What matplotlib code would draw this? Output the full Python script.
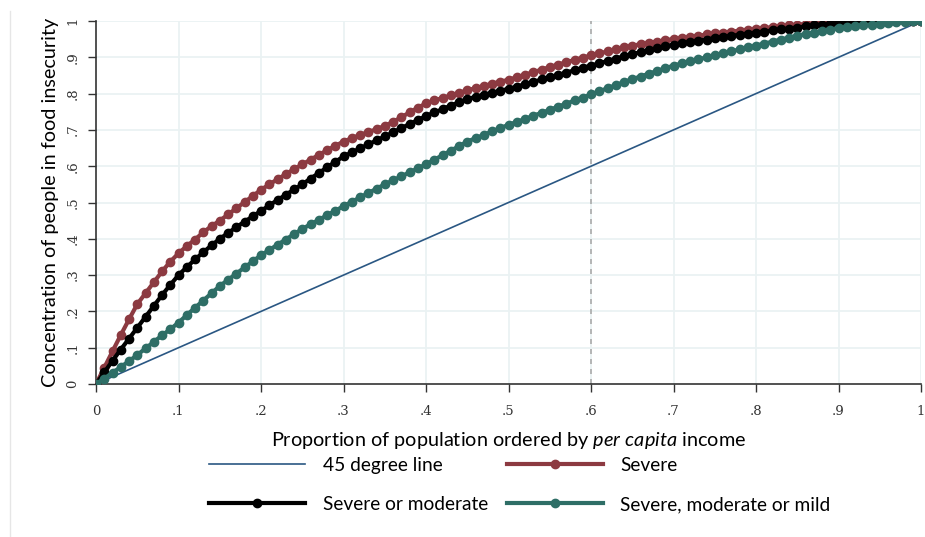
import numpy as np
import matplotlib
matplotlib.use("Agg")
import matplotlib.pyplot as plt
from matplotlib.lines import Line2D

plt.rcParams["font.family"] = ["Lato", "DejaVu Sans"]
plt.rcParams["mathtext.fontset"] = "custom"
plt.rcParams["mathtext.it"] = "Lato:italic"
plt.rcParams["mathtext.rm"] = "Lato"

# population share, ordered by per capita income (one point per percentile)
pop_share = [i / 100 for i in range(101)]

severe = [
    0, 0.045, 0.09, 0.135, 0.178, 0.22, 0.25, 0.28, 0.31, 0.337,
    0.36, 0.38, 0.398, 0.418, 0.435, 0.45, 0.467, 0.484, 0.501, 0.518,
    0.535, 0.55, 0.564, 0.578, 0.592, 0.605, 0.618, 0.631, 0.644, 0.656,
    0.668, 0.677, 0.686, 0.694, 0.702, 0.711, 0.722, 0.735, 0.748, 0.761,
    0.773, 0.781, 0.788, 0.795, 0.802, 0.809, 0.815, 0.821, 0.827, 0.833,
    0.838, 0.845, 0.852, 0.859, 0.866, 0.873, 0.88, 0.886, 0.893, 0.899,
    0.905, 0.911, 0.916, 0.922, 0.927, 0.932, 0.936, 0.94, 0.943, 0.947,
    0.95, 0.953, 0.956, 0.959, 0.963, 0.966, 0.968, 0.971, 0.973, 0.976,
    0.978, 0.981, 0.983, 0.986, 0.988, 0.99, 0.992, 0.993, 0.995, 0.996,
    0.997, 0.997, 0.998, 0.998, 0.999, 0.999, 0.999, 1, 1, 1, 1,
]

severe_moderate = [
    0, 0.032, 0.064, 0.095, 0.125, 0.155, 0.185, 0.215, 0.245, 0.273,
    0.30, 0.322, 0.343, 0.363, 0.382, 0.40, 0.416, 0.432, 0.447, 0.462,
    0.477, 0.492, 0.507, 0.521, 0.536, 0.55, 0.566, 0.581, 0.597, 0.612,
    0.627, 0.638, 0.649, 0.66, 0.671, 0.682, 0.693, 0.705, 0.716, 0.727,
    0.738, 0.748, 0.757, 0.767, 0.776, 0.785, 0.791, 0.797, 0.802, 0.808,
    0.813, 0.819, 0.826, 0.832, 0.839, 0.845, 0.851, 0.858, 0.864, 0.871,
    0.877, 0.883, 0.89, 0.896, 0.903, 0.909, 0.914, 0.92, 0.925, 0.93,
    0.935, 0.939, 0.942, 0.946, 0.949, 0.953, 0.956, 0.959, 0.962, 0.965,
    0.968, 0.971, 0.974, 0.977, 0.979, 0.982, 0.985, 0.988, 0.99, 0.993,
    0.995, 0.996, 0.996, 0.997, 0.997, 0.998, 0.998, 0.999, 0.999, 1, 1,
]

severe_moderate_mild = [
    0, 0.015, 0.031, 0.047, 0.063, 0.08, 0.098, 0.116, 0.134, 0.151,
    0.169, 0.19, 0.21, 0.23, 0.25, 0.27, 0.287, 0.304, 0.321, 0.338,
    0.355, 0.369, 0.384, 0.398, 0.413, 0.427, 0.44, 0.452, 0.465, 0.477,
    0.49, 0.502, 0.514, 0.526, 0.538, 0.55, 0.561, 0.572, 0.583, 0.594,
    0.605, 0.618, 0.63, 0.643, 0.655, 0.668, 0.677, 0.686, 0.696, 0.705,
    0.714, 0.722, 0.73, 0.739, 0.747, 0.755, 0.764, 0.772, 0.781, 0.789,
    0.798, 0.806, 0.815, 0.823, 0.832, 0.84, 0.847, 0.855, 0.862, 0.87,
    0.877, 0.883, 0.889, 0.894, 0.9, 0.906, 0.911, 0.916, 0.922, 0.927,
    0.932, 0.938, 0.943, 0.949, 0.954, 0.96, 0.964, 0.968, 0.972, 0.976,
    0.98, 0.983, 0.985, 0.988, 0.99, 0.993, 0.995, 0.996, 0.998, 0.999, 1,
]

ticks = [0, 0.1, 0.2, 0.3, 0.4, 0.5, 0.6, 0.7, 0.8, 0.9, 1]
tick_labels = ["0", ".1", ".2", ".3", ".4", ".5", ".6", ".7", ".8", ".9", "1"]
cutoff = 0.6

fig = plt.figure(figsize=(9.25, 5.37), dpi=100)
ax = fig.add_axes([0.1038, 0.2849, 0.8919, 0.6760])

# thin frame line at the very left of the image
fig.add_artist(Line2D([0.011, 0.011], [0.0, 0.98], transform=fig.transFigure,
                      color="#e6e6e6", lw=1))

for t in ticks[1:]:
    ax.axvline(t, color="#eaf2f3", lw=1.3, zorder=0)
    ax.axhline(t, color="#eaf2f3", lw=1.3, zorder=0)
ax.axvline(cutoff, color="#aaaaaa", lw=1.2, ls=(0, (3, 3)), zorder=1)

ax.plot(pop_share, pop_share, color="#2a5783", lw=1.2, label="45 degree line", zorder=2)
ax.plot(pop_share, severe, color="#8c3a41", lw=3, marker="o", ms=6,
        label="Severe", zorder=3)
ax.plot(pop_share, severe_moderate, color="black", lw=3, marker="o", ms=6,
        label="Severe or moderate", zorder=4)
ax.plot(pop_share, severe_moderate_mild, color="#2e6e66", lw=3, marker="o", ms=6,
        label="Severe, moderate or mild", zorder=5)

ax.set_xlim(0, 1)
ax.set_ylim(0, 1)
ax.set_xticks(ticks)
ax.set_yticks(ticks)
ax.set_xticklabels(tick_labels, family="DejaVu Serif", fontsize=9.5)
ax.set_yticklabels(tick_labels, family="DejaVu Serif", fontsize=9.5,
                   rotation=90, va="center")
ax.tick_params(direction="out", length=6, width=1, colors="#333333", pad=6)
ax.tick_params(axis="x", pad=9)
for s in ["top", "right"]:
    ax.spines[s].set_visible(False)
for s in ["left", "bottom"]:
    ax.spines[s].set_color("#333333")
    ax.spines[s].set_linewidth(1.2)

ax.set_ylabel("Concentration of people in food insecurity", fontsize=14.3, labelpad=5)
ax.set_xlabel(r"Proportion of population ordered by $\it{per\ capita}$ income",
              fontsize=14.3, labelpad=9)

handles, labels = ax.get_legend_handles_labels()
order = [0, 2, 1, 3]
fig.legend([handles[i] for i in order], [labels[i] for i in order],
           loc="center", bbox_to_anchor=(0.562, 0.097), ncol=2, frameon=False,
           fontsize=13.8, handlelength=5.0, handletextpad=0.9,
           columnspacing=1.0, labelspacing=1.15)

fig.savefig("out.png", dpi=100)
